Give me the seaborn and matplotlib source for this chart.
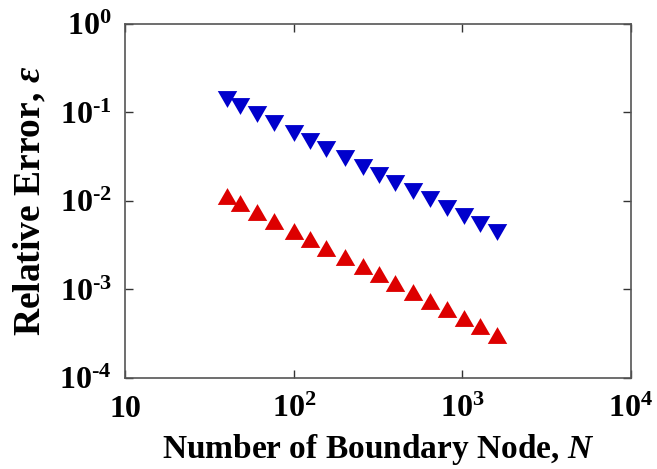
import matplotlib
matplotlib.use("Agg")
import matplotlib.pyplot as plt
import seaborn as sns
import pandas as pd

# number of boundary nodes
n_nodes = [40, 48, 60, 76, 100, 124, 156, 200, 256, 320, 400, 508, 640, 812, 1024, 1280, 1600]
# relative error of the two methods
err_blue = [0.142, 0.119, 0.0955, 0.0767, 0.0592, 0.0476, 0.0384, 0.0303, 0.0244, 0.0197,
            0.0160, 0.0130, 0.0104, 0.0084, 0.0068, 0.00546, 0.00447]
err_red = [0.01138, 0.00942, 0.00757, 0.00599, 0.00458, 0.00369, 0.00292, 0.00231, 0.00185,
           0.00149, 0.00117, 0.000944, 0.000747, 0.000603, 0.000480, 0.000384, 0.000306]

x_ticks = [10, 100, 1000, 10000]
x_ticklabels = ["10", r"$10^2$", r"$10^3$", r"$10^4$"]
y_ticks = [1e-4, 1e-3, 1e-2, 1e-1, 1]
y_ticklabels = [r"$10^{\text{-}4}$", r"$10^{\text{-}3}$", r"$10^{\text{-}2}$",
                r"$10^{\text{-}1}$", r"$10^0$"]

sns.set_style("ticks")
plt.rcParams["font.family"] = ["Liberation Serif", "DejaVu Serif"]
plt.rcParams["font.weight"] = "bold"
plt.rcParams["mathtext.fontset"] = "custom"
plt.rcParams["mathtext.rm"] = "Liberation Serif:bold"
plt.rcParams["mathtext.bf"] = "Liberation Serif:bold"
plt.rcParams["mathtext.it"] = "Liberation Serif:italic"
plt.rcParams["text.color"] = "black"
plt.rcParams["axes.labelcolor"] = "black"
plt.rcParams["xtick.labelcolor"] = "black"
plt.rcParams["ytick.labelcolor"] = "black"

df = pd.DataFrame({"N": n_nodes, "blue": err_blue, "red": err_red})

fig = plt.figure(figsize=(6.57, 4.69), dpi=100)
ax = fig.add_axes([0.191, 0.194, 0.769, 0.755])

# equilateral triangles
up = [(-1, -0.866), (1, -0.866), (0, 0.866)]
down = [(-1, 0.866), (1, 0.866), (0, -0.866)]
sns.scatterplot(data=df, x="N", y="blue", marker=down, s=196, color="#0000cc",
                linewidth=0, ax=ax)
sns.scatterplot(data=df, x="N", y="red", marker=up, s=196, color="#dd0000",
                linewidth=0, ax=ax)

ax.set_xscale("log")
ax.set_yscale("log")
ax.set_xlim(10, 10000)
ax.set_ylim(1e-4, 1)
ax.set_xticks(x_ticks)
ax.set_xticklabels(x_ticklabels)
ax.set_yticks(y_ticks)
ax.set_yticklabels(y_ticklabels)
ax.minorticks_off()

ax.tick_params(direction="in", length=6, width=1, color="#333333", labelcolor="black",
               labelsize=23, top=True, right=True)
ax.tick_params(axis="x", pad=12)
ax.tick_params(axis="y", pad=10)
for sp in ax.spines.values():
    sp.set_linewidth(1.2)
    sp.set_color("#555555")

ax.set_xlabel(r"Number of Boundary Node, $N$", fontsize=24, fontweight="bold",
              color="black", labelpad=6)
ax.set_ylabel(r"Relative Error, $\varepsilon$", fontsize=27, fontweight="bold",
              color="black", labelpad=8)

fig.savefig("out.png", dpi=100)
